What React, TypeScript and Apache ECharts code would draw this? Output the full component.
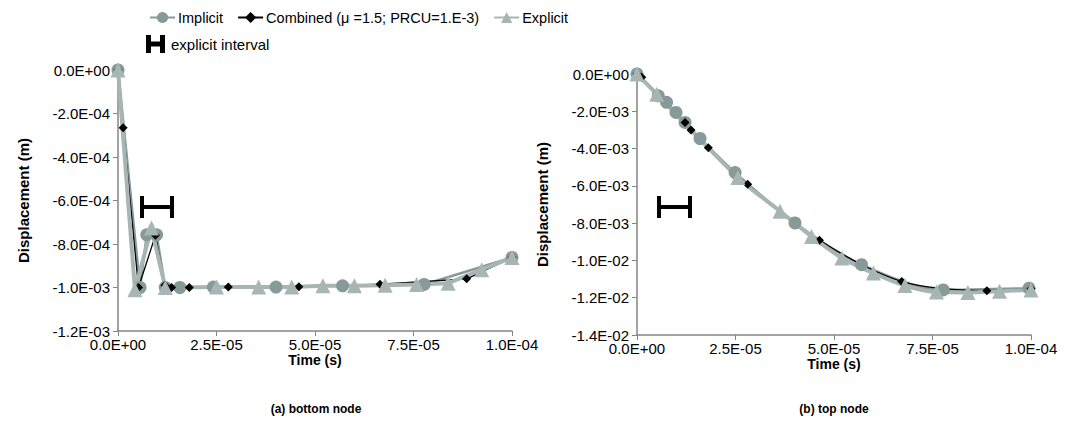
import React, { useEffect, useRef } from "react";
import * as echarts from "echarts";

// ---- data (time in s, displacement in m) ----
const bottomImplicit: [number, number][] = [
  [0, 0], [5.6e-6, -1.0e-3], [7.3e-6, -7.58e-4], [9.8e-6, -7.58e-4], [12e-6, -1.0e-3],
  [15.7e-6, -1.0e-3], [24.2e-6, -0.998e-3], [40.1e-6, -0.998e-3], [57e-6, -0.992e-3],
  [77.7e-6, -0.986e-3], [100e-6, -0.862e-3],
];
const bottomCombined: [number, number][] = [
  [0, 0], [1.3e-6, -2.65e-4], [5.2e-6, -1.0e-3], [9.5e-6, -7.6e-4], [11.9e-6, -0.99e-3],
  [13.6e-6, -1.0e-3], [18.1e-6, -1.0e-3], [28e-6, -0.998e-3], [45.9e-6, -0.997e-3],
  [66.5e-6, -0.985e-3], [88.5e-6, -0.96e-3], [100e-6, -0.862e-3],
];
const bottomExplicit: [number, number][] = [
  [0, 0], [4.3e-6, -1.01e-3], [8.5e-6, -7.27e-4], [12e-6, -1.0e-3], [25e-6, -0.998e-3],
  [35.7e-6, -0.998e-3], [44.1e-6, -0.998e-3], [52e-6, -0.992e-3], [60e-6, -0.992e-3],
  [67.8e-6, -0.99e-3], [75.8e-6, -0.986e-3], [83.8e-6, -0.98e-3], [92.3e-6, -0.918e-3],
  [100e-6, -0.862e-3],
];
const topImplicit: [number, number][] = [
  [0, 0], [5.4e-6, -1.17e-3], [7.5e-6, -1.52e-3], [9.9e-6, -2.06e-3], [12.2e-6, -2.6e-3],
  [16e-6, -3.46e-3], [24.9e-6, -5.29e-3], [40.1e-6, -7.99e-3], [57e-6, -10.23e-3],
  [77.7e-6, -11.58e-3], [99.5e-6, -11.49e-3],
];
const topCombined: [number, number][] = [
  [0, 0], [1.2e-6, -0.18e-3], [12.2e-6, -2.6e-3], [13.7e-6, -3.0e-3], [18.1e-6, -3.95e-3],
  [28.1e-6, -5.92e-3], [46.3e-6, -8.92e-3], [67.2e-6, -11.13e-3], [88.8e-6, -11.62e-3],
  [100e-6, -11.52e-3],
];
const topExplicit: [number, number][] = [
  [0, 0], [5e-6, -1.08e-3], [25.6e-6, -5.55e-3], [36.3e-6, -7.36e-3], [44.3e-6, -8.71e-3],
  [52e-6, -9.87e-3], [60e-6, -10.68e-3], [68e-6, -11.35e-3], [76e-6, -11.7e-3],
  [84e-6, -11.72e-3], [92e-6, -11.65e-3], [100e-6, -11.58e-3],
];

const seriesNames = ["Implicit", "Combined (\u03bc =1.5; PRCU=1.E-3)", "Explicit"];
const panelTitles = ["(a) bottom node", "(b) top node"];
const xAxisName = "Time (s)";
const yAxisName = "Displacement (m)";

const FONT = "Liberation Sans, Arial, sans-serif";
const C_IMP = "#879a9a";
const C_EXP = "#a8b6b3";
const C_AXIS = "#858585";

const fmt = (v: number) => {
  if (Math.abs(v) < 1e-12) return "0.0E+00";
  const s = v.toExponential(1);
  const [m, e] = s.split("e");
  const sign = e[0] === "-" ? "-" : "+";
  const d = e.replace(/[+-]/, "");
  return m + "E" + sign + d.padStart(2, "0");
};

function makeSeries(idx: number, imp: any, comb: any, exp: any, smooth: number) {
  return [
    {
      name: seriesNames[0], type: "line", xAxisIndex: idx, yAxisIndex: idx, data: imp,
      symbol: "circle", symbolSize: 13, smooth,
      lineStyle: { color: C_IMP, width: 2.5 }, itemStyle: { color: C_IMP },
    },
    {
      name: seriesNames[1], type: "line", xAxisIndex: idx, yAxisIndex: idx, data: comb,
      symbol: "diamond", symbolSize: 9, smooth,
      lineStyle: { color: "#000", width: 1.3 }, itemStyle: { color: "#000" },
    },
    {
      name: seriesNames[2], type: "line", xAxisIndex: idx, yAxisIndex: idx, data: exp,
      symbol: "triangle", symbolSize: 15, smooth,
      lineStyle: { color: C_EXP, width: 4 }, itemStyle: { color: C_EXP },
    },
  ];
}

function xAxisCfg(gridIndex: number) {
  return {
    type: "value", gridIndex, min: 0, max: 1e-4, interval: 2.5e-5,
    name: xAxisName, nameLocation: "middle", nameGap: 22, nameMoveOverlap: false,
    nameTextStyle: { fontFamily: FONT, fontSize: 14, fontWeight: "bold", color: "#000" },
    axisLine: { show: true, onZero: false, lineStyle: { color: C_AXIS, width: 1.5 } },
    axisTick: { show: true, length: 5, lineStyle: { color: C_AXIS } },
    axisLabel: { formatter: fmt, fontFamily: FONT, fontSize: 15, color: "#000", margin: 6 },
    splitLine: { show: false },
  };
}
function yAxisCfg(gridIndex: number, min: number, interval: number) {
  return {
    type: "value", gridIndex, min, max: 0, interval,
    name: yAxisName, nameLocation: "middle", nameGap: 87, nameRotate: 90, nameMoveOverlap: false,
    nameTextStyle: { fontFamily: FONT, fontSize: 15, fontWeight: "bold", color: "#000" },
    axisLine: { show: true, onZero: false, lineStyle: { color: C_AXIS, width: 1.5 } },
    axisTick: { show: true, length: 5, lineStyle: { color: C_AXIS } },
    axisLabel: { formatter: fmt, fontFamily: FONT, fontSize: 15, color: "#000", margin: 8 },
    splitLine: { show: false },
  };
}

function hMark(x: number, y: number, w: number, h: number, t: number) {
  return {
    type: "group", x, y,
    children: [
      { type: "rect", shape: { x: 0, y: 0, width: t, height: h }, style: { fill: "#000" } },
      { type: "rect", shape: { x: w - t, y: 0, width: t, height: h }, style: { fill: "#000" } },
      { type: "rect", shape: { x: 0, y: h / 2 - t / 2, width: w, height: t }, style: { fill: "#000" } },
    ],
  };
}

export default function App() {
  const ref = useRef<HTMLDivElement>(null);
  useEffect(() => {
    if (!ref.current) return;
    const chart = echarts.init(ref.current, null, { renderer: "svg" });
    chart.setOption({
      animation: false,
      backgroundColor: "#fff",
      grid: [
        { left: 118, top: 70, width: 394, height: 261 },
        { left: 637, top: 74, width: 394, height: 261 },
      ],
      xAxis: [xAxisCfg(0), xAxisCfg(1)],
      yAxis: [yAxisCfg(0, -1.2e-3, 2e-4), yAxisCfg(1, -1.4e-2, 2e-3)],
      legend: {
        left: 144, top: 5, itemGap: 14, itemWidth: 25, itemHeight: 14,
        data: seriesNames,
        textStyle: { fontFamily: FONT, fontSize: 14.5, color: "#000", padding: [0, 0, 0, -2] },
      },
      series: [
        ...makeSeries(0, bottomImplicit, bottomCombined, bottomExplicit, 0),
        ...makeSeries(1, topImplicit, topCombined, topExplicit, 0.3),
      ],
      graphic: [
        hMark(146, 35, 19, 18, 5),
        { type: "text", x: 171, y: 44, style: { text: "explicit interval", fontFamily: FONT, fontSize: 15, fill: "#000", verticalAlign: "middle" } },
        hMark(140, 196, 34, 22, 4),
        hMark(657, 196, 35, 22, 4),
        { type: "text", x: 316, y: 409, style: { text: panelTitles[0], fontFamily: FONT, fontSize: 12, fontWeight: "bold", fill: "#000", align: "center", verticalAlign: "middle" } },
        { type: "text", x: 834, y: 409, style: { text: panelTitles[1], fontFamily: FONT, fontSize: 12, fontWeight: "bold", fill: "#000", align: "center", verticalAlign: "middle" } },
      ],
    });
    return () => chart.dispose();
  }, []);
  return (
    <div
      ref={ref}
      style={{ position: "fixed", left: 0, top: 0, width: 1069, height: 436, background: "#fff" }}
    />
  );
}
